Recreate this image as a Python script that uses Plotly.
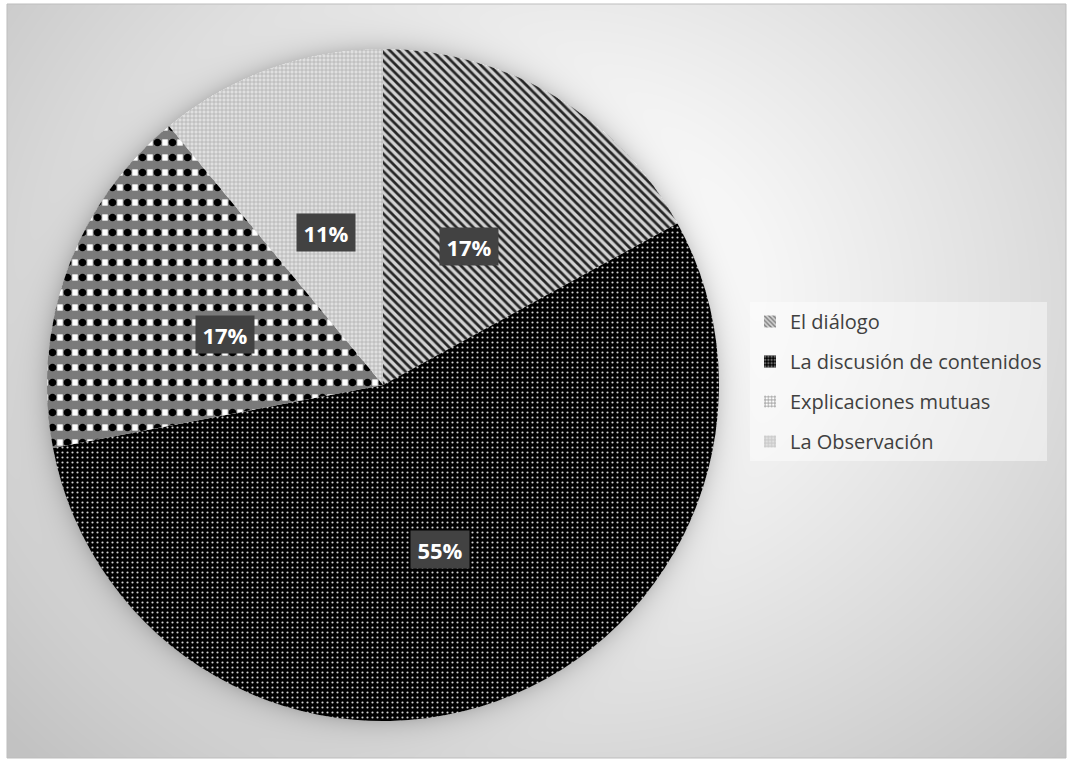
import base64
import math
import struct
import zlib

import numpy as np
import plotly.graph_objects as go

# ---- data -------------------------------------------------------------
labels = ["El diálogo", "La discusión de contenidos", "Explicaciones mutuas", "La Observación"]
values = [17, 55, 17, 11]

# ---- page geometry (pixels) ------------------------------------------
W, H = 1069, 762
BOX = (7, 4, 1066, 758)          # chart frame: left, top, right, bottom
CX, CY, R = 383, 385, 336        # pie centre and radius

# per-slice fills
pat_shape = ["\\", ".", "", "+"]
pat_bg = ["#d2d2d2", "#000000", "#7a7a7a", "#e0e0e0"]
pat_fg = ["#262626", "#cfcfcf", "#7a7a7a", "#a9a9a9"]
pat_size = [6, 5, 8, 4]
pat_solid = [0.45, 0.15, 0.3, 0.3]


def px_to_paper(x, y):
    return x / W, 1 - y / H


# ---- radial-gradient backdrop with a soft halo round the pie ---------
def backdrop_png():
    x0, y0, x1, y1 = BOX
    w, h = x1 - x0, y1 - y0
    xs = np.arange(w) + x0 + 0.5
    ys = np.arange(h) + y0 + 0.5
    X, Y = np.meshgrid(xs, ys)
    d = np.hypot(X - 560, (Y - 300) * 1.15)
    t = np.clip((d - 120) / 620, 0, 1)
    g = 253 - 58 * t ** 1.1
    out = np.hypot(X - CX, Y - CY) - R
    halo = np.where(out > 0, 38 * np.exp(-out / 12.0), 0)
    g = np.clip(g - halo, 0, 255).astype(np.uint8)
    raw = b"".join(b"\x00" + row.tobytes() for row in g)

    def chunk(tag, data):
        c = struct.pack(">I", len(data)) + tag + data
        return c + struct.pack(">I", zlib.crc32(tag + data) & 0xFFFFFFFF)

    png = b"\x89PNG\r\n\x1a\n"
    png += chunk(b"IHDR", struct.pack(">IIBBBBB", w, h, 8, 0, 0, 0, 0))
    png += chunk(b"IDAT", zlib.compress(raw, 9))
    png += chunk(b"IEND", b"")
    return "data:image/png;base64," + base64.b64encode(png).decode()


dx0, dy1 = px_to_paper(CX - R, CY + R)
dx1, dy0 = px_to_paper(CX + R, CY - R)
domain = dict(x=[dx0, dx1], y=[dy1, dy0])
clear = ["rgba(0,0,0,0)"] * len(values)

fig = go.Figure()

# base pie
fig.add_trace(go.Pie(
    labels=labels, values=values, sort=False, direction="clockwise", rotation=0,
    domain=domain, textinfo="none", showlegend=False,
    marker=dict(colors=pat_bg, line=dict(width=0),
                pattern=dict(shape=pat_shape, bgcolor=pat_bg, fgcolor=pat_fg,
                             size=pat_size, solidity=pat_solid)),
))

# check texture of "Explicaciones mutuas": white bands, gray dividers, black cells
idx = labels.index("Explicaciones mutuas")
layers = [
    dict(shape="-", fg="#ffffff", size=15, solidity=0.42),
    dict(shape="|", fg="#7a7a7a", size=7.5, solidity=0.28),
    dict(shape=".", fg="#000000", size=15, solidity=0.2),
]
for lay in layers:
    shapes = [""] * len(values)
    shapes[idx] = lay["shape"]
    fig.add_trace(go.Pie(
        labels=labels, values=values, sort=False, direction="clockwise", rotation=0,
        domain=domain, textinfo="none", showlegend=False, hoverinfo="skip",
        marker=dict(colors=clear, line=dict(width=0),
                    pattern=dict(shape=shapes, bgcolor="rgba(0,0,0,0)", fgcolor=lay["fg"],
                                 size=lay["size"], solidity=lay["solidity"])),
    ))

# legend entries (one group each so rows can be spaced out)
for i, lab in enumerate(labels):
    fig.add_trace(go.Bar(
        x=[None], y=[None], name=lab, legendgroup=lab, showlegend=True,
        marker=dict(color=pat_bg[i] if pat_shape[i] else "#7a7a7a", line=dict(width=0),
                    pattern=dict(shape=pat_shape[i] if pat_shape[i] else "+",
                                 bgcolor=pat_bg[i] if pat_shape[i] else "#ffffff",
                                 fgcolor=pat_fg[i] if pat_shape[i] else "#333333",
                                 size=4, solidity=0.45)),
    ))

# percentage labels at half radius along each slice's mid-angle
total = sum(values)
cum = 0
annotations = []
for v in values:
    mid = (cum + v / 2) / total * 2 * math.pi
    cum += v
    lx = CX + 0.5 * R * math.sin(mid)
    ly = CY - 0.5 * R * math.cos(mid) + 6
    ax, ay = px_to_paper(lx, ly)
    annotations.append(dict(
        x=ax, y=ay, xref="paper", yref="paper", showarrow=False,
        xanchor="center", yanchor="middle",
        text=f"<b>{round(v / total * 100)}%</b>",
        font=dict(family="Open Sans", size=22, color="#ffffff"),
        bgcolor="#424242", width=58, height=37, borderpad=0,
    ))

bx0, by0 = px_to_paper(BOX[0], BOX[1])
bx1, by1 = px_to_paper(BOX[2], BOX[3])

fig.update_layout(
    width=W, height=H,
    margin=dict(l=0, r=0, t=0, b=0),
    paper_bgcolor="#ffffff",
    plot_bgcolor="rgba(0,0,0,0)",
    xaxis=dict(visible=False, domain=[0.8, 0.81]),
    yaxis=dict(visible=False, domain=[0.0, 0.01]),
    images=[dict(source=backdrop_png(), xref="paper", yref="paper",
                 x=bx0, y=by0, sizex=bx1 - bx0, sizey=by0 - by1,
                 sizing="stretch", xanchor="left", yanchor="top", layer="below")],
    shapes=[dict(type="rect", xref="paper", yref="paper",
                 x0=bx0, y0=by1, x1=bx1, y1=by0,
                 line=dict(color="#bdbdbd", width=1))],
    annotations=annotations,
    legend=dict(
        x=750 / W, y=1 - 302 / H, xanchor="left", yanchor="top",
        bgcolor="rgba(255,255,255,0.45)", borderwidth=0,
        font=dict(family="Open Sans", size=20, color="#404040"),
        tracegroupgap=11, itemclick=False,
    ),
    showlegend=True,
)

fig.write_html("out.html")
